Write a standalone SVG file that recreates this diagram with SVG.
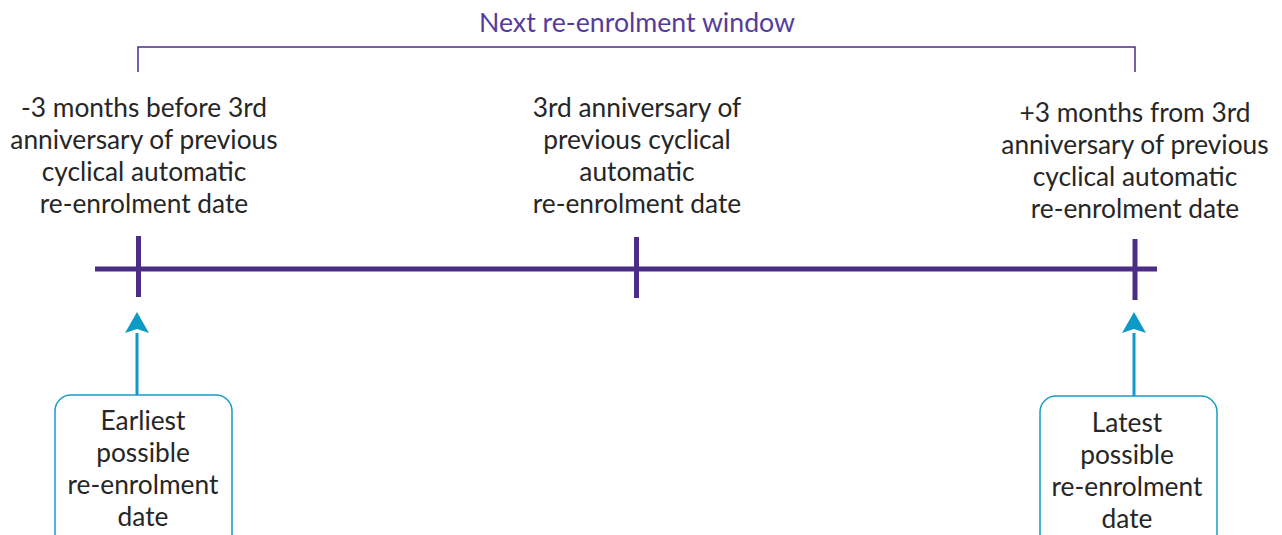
<svg xmlns="http://www.w3.org/2000/svg" width="1282" height="535" viewBox="0 0 1282 535">
  <style>
    .lbl { font-family: Lato, "Noto Sans", "Liberation Sans", sans-serif; font-size: 26.3px; fill: #262626; text-anchor: middle; }
    .title { font-family: Lato, "Noto Sans", "Liberation Sans", sans-serif; font-size: 26.7px; fill: #553c9c; text-anchor: middle; }
    .axis { stroke: #4b2d85; stroke-width: 5; fill: none; }
    .bracket { stroke: #4b2d85; stroke-width: 1.5; fill: none; }
    .box { fill: #ffffff; stroke: #1a9cc6; stroke-width: 1.5; }
    .arrow { stroke: #0e9ac6; stroke-width: 3; fill: none; }
    .head { fill: #0e9ac6; }
  </style>

  <!-- window bracket and title -->
  <g id="window">
    <path class="bracket" d="M138,72 V47 H1135 V72"/>
    <text class="title" x="637" y="32">Next re-enrolment window</text>
  </g>

  <!-- timeline axis with tick marks -->
  <g id="timeline">
    <line class="axis" x1="95" y1="269" x2="1157" y2="269"/>
    <line class="axis" x1="138.5" y1="236" x2="138.5" y2="297"/>
    <line class="axis" x1="636.5" y1="237" x2="636.5" y2="298"/>
    <line class="axis" x1="1135" y1="239" x2="1135" y2="300"/>
  </g>

  <g id="label-start">
    <text class="lbl" x="144" y="117">-3 months before 3rd</text>
    <text class="lbl" x="144" y="149">anniversary of previous</text>
    <text class="lbl" x="144" y="181">cyclical automatic</text>
    <text class="lbl" x="144" y="213">re-enrolment date</text>
  </g>

  <g id="label-mid">
    <text class="lbl" x="637" y="117">3rd anniversary of</text>
    <text class="lbl" x="637" y="149">previous cyclical</text>
    <text class="lbl" x="637" y="181">automatic</text>
    <text class="lbl" x="637" y="213">re-enrolment date</text>
  </g>

  <g id="label-end">
    <text class="lbl" x="1135" y="122">+3 months from 3rd</text>
    <text class="lbl" x="1135" y="154">anniversary of previous</text>
    <text class="lbl" x="1135" y="186">cyclical automatic</text>
    <text class="lbl" x="1135" y="218">re-enrolment date</text>
  </g>

  <!-- pointers from the callout boxes up to the window ends -->
  <g id="connectors">
    <path class="arrow" d="M137,395 V333"/>
    <path class="head" d="M137,312 L149,333 L137,329 L125,333 Z"/>
    <path class="arrow" d="M1134,396 V333"/>
    <path class="head" d="M1134,312 L1146,333 L1134,329 L1122,333 Z"/>
  </g>

  <g id="earliest">
    <rect class="box" x="55" y="395" width="177" height="160" rx="16"/>
    <text class="lbl" x="143" y="430">Earliest</text>
    <text class="lbl" x="143" y="462">possible</text>
    <text class="lbl" x="143" y="494">re-enrolment</text>
    <text class="lbl" x="143" y="526">date</text>
  </g>

  <g id="latest">
    <rect class="box" x="1040" y="396" width="177" height="160" rx="16"/>
    <text class="lbl" x="1127" y="432">Latest</text>
    <text class="lbl" x="1127" y="464">possible</text>
    <text class="lbl" x="1127" y="496">re-enrolment</text>
    <text class="lbl" x="1127" y="528">date</text>
  </g>
</svg>
